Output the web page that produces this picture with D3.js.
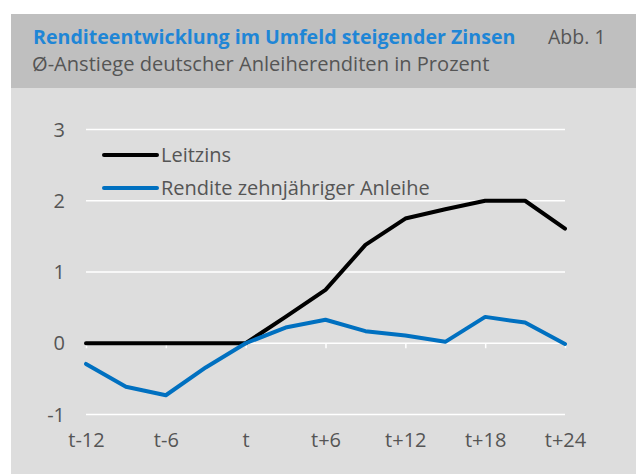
<!DOCTYPE html>
<html>
<head>
<meta charset="utf-8">
<script src="https://cdn.jsdelivr.net/npm/d3@7"></script>
<style>
  body { margin: 0; background: #fff; }
  text { font-family: "Open Sans", "Noto Sans", sans-serif; }
</style>
</head>
<body>
<div id="main"></div>
<script>
var periods = ["t-12","t-9","t-6","t-3","t","t+3","t+6","t+9","t+12","t+15","t+18","t+21","t+24"];
var tickLabels = ["t-12","t-6","t","t+6","t+12","t+18","t+24"];
var leitzins = [0, 0, 0, 0, 0, 0.37, 0.75, 1.38, 1.75, 1.88, 2.0, 2.0, 1.61];
var rendite = [-0.29, -0.61, -0.73, -0.34, 0, 0.22, 0.33, 0.17, 0.11, 0.02, 0.37, 0.29, -0.01];
var yTicks = [-1, 0, 1, 2, 3];
var seriesNames = ["Leitzins", "Rendite zehnjähriger Anleihe"];
var seriesColors = ["#000000", "#0070c0"];

var width = 636, height = 474;
var svg = d3.select("#main").append("svg")
  .attr("width", width)
  .attr("height", height);

// background panels
svg.append("rect").attr("x", 11).attr("y", 14).attr("width", width - 11).attr("height", 74).attr("fill", "#bfbfbf");
svg.append("rect").attr("x", 11).attr("y", 88).attr("width", width - 11).attr("height", height - 88).attr("fill", "#dddddd");

// titles
svg.append("text").attr("x", 33).attr("y", 44)
  .style("font-size", "19.6px").style("font-weight", "bold").attr("fill", "#1f86d6")
  .text("Renditeentwicklung im Umfeld steigender Zinsen");
svg.append("text").attr("x", 548).attr("y", 44)
  .style("font-size", "19.5px").attr("fill", "#555")
  .text("Abb. 1");
svg.append("text").attr("x", 32).attr("y", 71)
  .style("font-size", "20.1px").attr("fill", "#555")
  .text("Ø-Anstiege deutscher Anleiherenditen in Prozent");

var x = d3.scalePoint().domain(periods).range([86, 565]);
var y = d3.scaleLinear().domain([-1, 3]).range([414.5, 129.5]);

// gridlines
svg.append("g").selectAll("line").data(yTicks).enter().append("line")
  .attr("x1", 86).attr("x2", 565)
  .attr("y1", function(d) { return y(d); }).attr("y2", function(d) { return y(d); })
  .attr("stroke", "#fff").attr("stroke-width", 1.5);

// y labels
svg.append("g").selectAll("text").data(yTicks).enter().append("text")
  .attr("x", 65).attr("y", function(d) { return y(d); })
  .attr("dy", "0.35em").attr("text-anchor", "end")
  .style("font-size", "20px").attr("fill", "#555")
  .text(function(d) { return d; });

// x axis along zero line
var xAxis = d3.axisBottom(x).tickValues(tickLabels).tickSize(5).tickSizeOuter(0);
var gx = svg.append("g").attr("transform", "translate(0," + y(0) + ")").call(xAxis);
gx.select(".domain").remove();
gx.selectAll(".tick line").attr("stroke", "#fff").attr("stroke-width", 1.5);
gx.selectAll(".tick text").style("font-size", "20px").attr("fill", "#555")
  .style("font-family", "\"Open Sans\", \"Noto Sans\", sans-serif")
  .attr("y", 440 - y(0)).attr("dy", "0.35em");

// lines
var line = d3.line()
  .x(function(d, i) { return x(periods[i]); })
  .y(function(d) { return y(d); });
[leitzins, rendite].forEach(function(s, i) {
  svg.append("path").datum(s)
    .attr("d", line)
    .attr("fill", "none")
    .attr("stroke", seriesColors[i])
    .attr("stroke-width", 4)
    .attr("stroke-linejoin", "round")
    .attr("stroke-linecap", "round");
});

// legend
var legend = svg.append("g").selectAll("g").data(seriesNames).enter().append("g")
  .attr("transform", function(d, i) { return "translate(104," + (155 + i * 33) + ")"; });
legend.append("line").attr("x1", 0).attr("x2", 53)
  .attr("stroke", function(d, i) { return seriesColors[i]; })
  .attr("stroke-width", 4).attr("stroke-linecap", "round");
legend.append("text").attr("x", 57).attr("dy", "0.35em")
  .style("font-size", "20px").attr("fill", "#555")
  .text(function(d) { return d; });
</script>
</body>
</html>
